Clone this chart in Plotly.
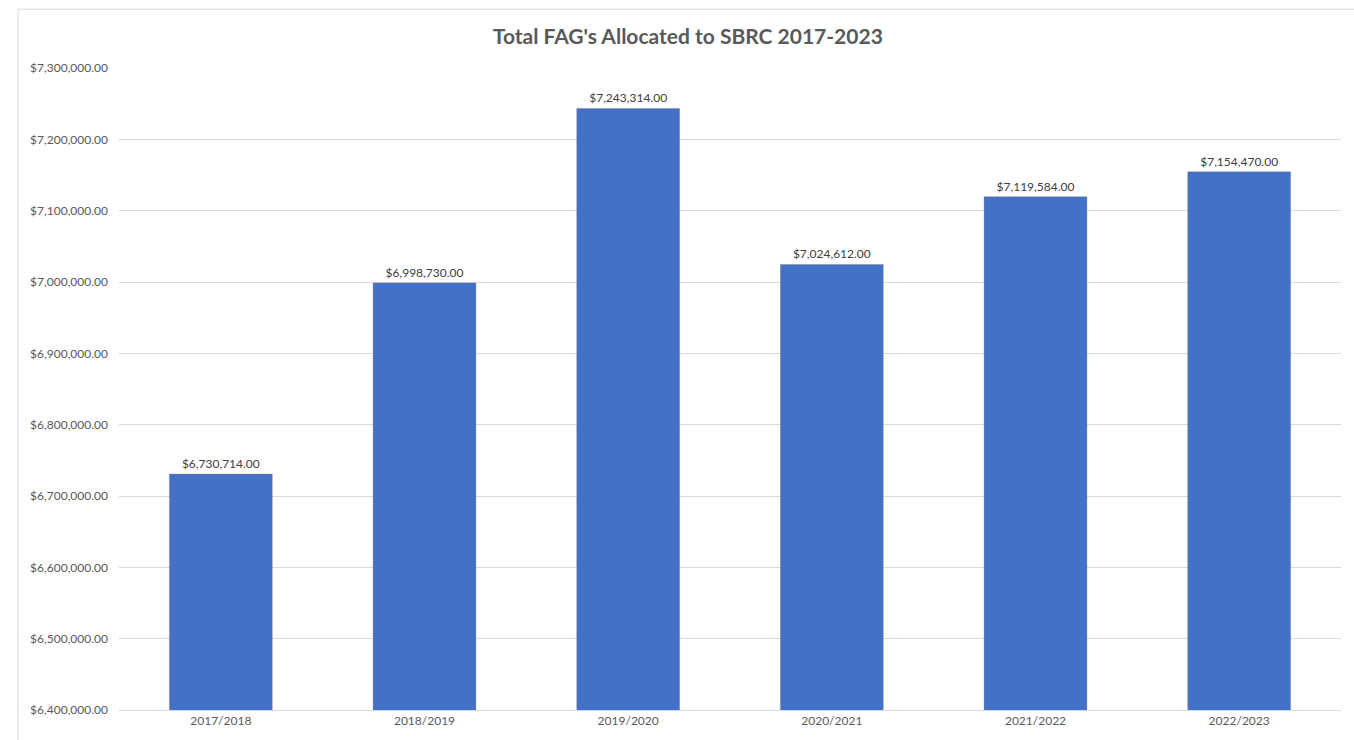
import plotly.graph_objects as go

categories = ["2017/2018", "2018/2019", "2019/2020", "2020/2021", "2021/2022", "2022/2023"]
values = [6730714, 6998730, 7243314, 7024612, 7119584, 7154470]
tick_vals = [6400000, 6500000, 6600000, 6700000, 6800000, 6900000, 7000000, 7100000, 7200000, 7300000]
tick_text = ["${:,.2f}".format(v) for v in tick_vals]
labels = ["${:,.2f}".format(v) for v in values]

font = "Lato, 'Open Sans', sans-serif"
gray = "#595959"

fig = go.Figure()
fig.add_trace(go.Bar(
    x=categories, y=values,
    marker=dict(color="#4371C7", line=dict(color="rgba(120,120,120,0.35)", width=1)),
    text=labels, textposition="outside", cliponaxis=False,
    textfont=dict(family=font, size=12, color="#404040"),
    width=0.505,
))

fig.update_layout(
    width=1354, height=740,
    margin=dict(l=119, r=13, t=68, b=28),
    paper_bgcolor="white", plot_bgcolor="white",
    title=dict(text="<b>Total FAG's Allocated to SBRC 2017-2023</b>", x=0.508, xanchor="center",
               y=0.95, yanchor="middle",
               font=dict(family=font, size=21, color=gray)),
    showlegend=False,
    xaxis=dict(tickfont=dict(family=font, size=12, color=gray), showline=True,
               linecolor="#d9d9d9", linewidth=1, ticks="", showgrid=False),
    yaxis=dict(range=[6400000, 7300000], tickvals=tick_vals, ticktext=tick_text,
               tickfont=dict(family=font, size=12, color=gray), showgrid=True,
               gridcolor="#d9d9d9", gridwidth=1, zeroline=False, ticks="", ticklabelstandoff=10),
    shapes=[dict(type="rect", xref="paper", yref="paper", x0=-0.0827, x1=1.03, y0=-0.06, y1=1.0916,
                 line=dict(color="#d9d9d9", width=1), fillcolor="rgba(0,0,0,0)", layer="below")],
)

fig.write_html("out.html")
